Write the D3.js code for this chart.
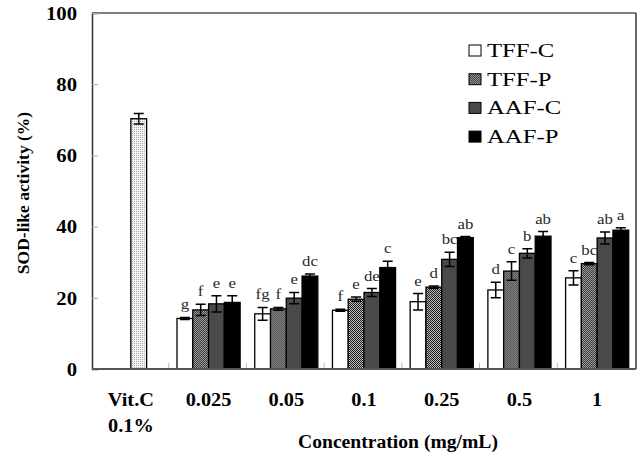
<!DOCTYPE html>
<html lang="en">
<head>
  <meta charset="UTF-8">
  <title>SOD-like activity</title>
  <script src="https://d3js.org/d3.v7.min.js"></script>
  <style>
    body { margin: 0; background: #fff; }
    .tick-label { font: bold 18px "Liberation Serif", serif; fill: #000; }
    .letter { font: 15px "Liberation Serif", serif; fill: #2a2a2a; }
    .legend text { font: 19px "Liberation Serif", serif; fill: #000; }
  </style>
</head>
<body>
  <div id="chart"></div>
  <script>
    // data
    var categories = ["Vit.C|0.1%", "0.025", "0.05", "0.1", "0.25", "0.5", "1"];
    var series = ["TFF-C", "TFF-P", "AAF-C", "AAF-P"];
    var yTicks = [0, 20, 40, 60, 80, 100];

    var vitcValue = 70.3, vitcErr = 1.5;

    var tffC = [14.2, 15.5, 16.5, 18.9, 22.2, 25.6];
    var tffCErr = [0.3, 1.8, 0.3, 2.3, 2.2, 2.0];
    var tffP = [16.6, 16.9, 19.6, 23.0, 27.5, 29.6];
    var tffPErr = [1.6, 0.4, 0.6, 0.3, 2.6, 0.3];
    var aafC = [18.3, 19.9, 21.5, 30.8, 32.5, 36.8];
    var aafCErr = [2.3, 1.6, 1.1, 2.0, 1.3, 1.7];
    var aafP = [18.7, 26.1, 28.5, 36.9, 37.3, 39.0];
    var aafPErr = [1.9, 0.6, 1.8, 0.3, 1.3, 0.7];

    var tffCLetters = ["g", "fg", "f", "e", "d", "c"];
    var tffPLetters = ["f", "f", "e", "d", "c", "bc"];
    var aafCLetters = ["e", "e", "de", "bc", "b", "ab"];
    var aafPLetters = ["e", "dc", "c", "ab", "ab", "a"];

    var margin = { top: 13, right: 6, bottom: 87, left: 92 },
      width = 642 - margin.left - margin.right,
      height = 456 - margin.top - margin.bottom;

    var svg = d3.select("#chart").append("svg")
      .attr("width", 642)
      .attr("height", 456);

    // the original figure's type is a bit wider than it is tall
    function widen(sel, k) {
      sel.each(function () {
        var n = this;
        var len = n.getComputedTextLength();
        if (len > 0) {
          d3.select(n).attr("textLength", len * k).attr("lengthAdjust", "spacingAndGlyphs");
        }
      });
    }

    // fill patterns
    var defs = svg.append("defs");
    var checker = defs.append("pattern").attr("id", "checker")
      .attr("width", 2).attr("height", 2).attr("patternUnits", "userSpaceOnUse");
    checker.append("rect").attr("width", 2).attr("height", 2).attr("fill", "#d8d8d8");
    checker.append("rect").attr("width", 1).attr("height", 1).attr("fill", "#000");
    checker.append("rect").attr("x", 1).attr("y", 1).attr("width", 1).attr("height", 1).attr("fill", "#000");

    var dots = defs.append("pattern").attr("id", "dots")
      .attr("width", 2).attr("height", 2).attr("patternUnits", "userSpaceOnUse");
    dots.append("rect").attr("width", 2).attr("height", 2).attr("fill", "#f4f4f4");
    dots.append("rect").attr("width", 1).attr("height", 1).attr("fill", "#aaa");

    var fills = { "TFF-C": "#fff", "TFF-P": "url(#checker)", "AAF-C": "#4a4a4a", "AAF-P": "#000" };

    var g = svg.append("g")
      .attr("transform", "translate(" + margin.left + "," + margin.top + ")");

    var x0 = d3.scaleBand().domain(categories).range([0, width]);
    var bw = x0.bandwidth();
    var x1 = d3.scaleBand().domain(series).range([bw * 0.094, bw * 0.906]);
    var y = d3.scaleLinear().domain([0, 100]).range([height, 0]);

    // frame (top and right)
    g.append("line").attr("x1", 0).attr("x2", width).attr("y1", 0).attr("y2", 0)
      .attr("stroke", "#000").attr("stroke-width", 1.2);
    g.append("line").attr("x1", width).attr("x2", width).attr("y1", 0).attr("y2", height)
      .attr("stroke", "#000").attr("stroke-width", 1.2);

    // y axis
    var yAxis = g.append("g").call(d3.axisLeft(y).tickValues(yTicks).tickSize(-6).tickFormat(d3.format("d")));
    yAxis.select(".domain").attr("stroke", "#333").attr("stroke-width", 1.5);
    yAxis.selectAll(".tick line").attr("stroke", "#aaa");
    yAxis.selectAll(".tick text").attr("class", "tick-label").attr("x", -15).attr("dy", "0.35em");
    widen(yAxis.selectAll(".tick text"), 1.15);

    // category separator ticks along the bottom
    g.selectAll(".sep")
      .data(categories.slice(1))
      .enter().append("line")
      .attr("class", "sep")
      .attr("x1", function (d) { return x0(d) - 1; })
      .attr("x2", function (d) { return x0(d) - 1; })
      .attr("y1", height)
      .attr("y2", height - 6)
      .attr("stroke", "#bbb");

    // grouped bars
    var rows = [];
    var vals = [tffC, tffP, aafC, aafP];
    var errs = [tffCErr, tffPErr, aafCErr, aafPErr];
    var lets = [tffCLetters, tffPLetters, aafCLetters, aafPLetters];
    categories.slice(1).forEach(function (c, i) {
      series.forEach(function (s, j) {
        rows.push({ cat: c, key: s, value: vals[j][i], err: errs[j][i], letter: lets[j][i] });
      });
    });

    var bars = g.selectAll(".bar")
      .data(rows)
      .enter().append("g")
      .attr("class", "bar")
      .attr("transform", function (d) { return "translate(" + x0(d.cat) + ",0)"; });

    bars.append("rect")
      .attr("x", function (d) { return x1(d.key); })
      .attr("width", x1.bandwidth())
      .attr("y", function (d) { return y(d.value); })
      .attr("height", function (d) { return height - y(d.value); })
      .attr("fill", function (d) { return fills[d.key]; })
      .attr("stroke", "#000")
      .attr("stroke-width", 1.3);

    function errorBar(sel, cx, d) {
      sel.append("path")
        .attr("d", "M" + (cx - 5) + "," + y(d.value + d.err) + "H" + (cx + 5) +
          "M" + cx + "," + y(d.value + d.err) + "V" + y(d.value - d.err) +
          "M" + (cx - 5) + "," + y(d.value - d.err) + "H" + (cx + 5))
        .attr("fill", "none")
        .attr("stroke", "#000")
        .attr("stroke-width", 1.5);
    }

    bars.each(function (d) {
      var cx = x1(d.key) + x1.bandwidth() / 2;
      errorBar(d3.select(this), cx, d);
      d3.select(this).append("text")
        .attr("class", "letter")
        .attr("x", cx)
        .attr("y", y(d.value + d.err) - 8)
        .attr("text-anchor", "middle")
        .text(d.letter);
    });
    widen(g.selectAll(".letter"), 1.12);

    // Vit.C reference bar
    var vit = { cat: categories[0], value: vitcValue, err: vitcErr };
    var vg = g.append("g").attr("transform", "translate(" + x0(vit.cat) + ",0)");
    vg.append("rect")
      .attr("x", x1("AAF-C"))
      .attr("width", x1.bandwidth())
      .attr("y", y(vit.value))
      .attr("height", height - y(vit.value))
      .attr("fill", "url(#dots)")
      .attr("stroke", "#000")
      .attr("stroke-width", 1.3);
    errorBar(vg, x1("AAF-C") + x1.bandwidth() / 2, vit);

    // bottom axis line
    g.append("line").attr("x1", 0).attr("x2", width).attr("y1", height).attr("y2", height)
      .attr("stroke", "#555").attr("stroke-width", 2);

    // x category labels (one text per line)
    categories.forEach(function (c) {
      c.split("|").forEach(function (p, k) {
        g.append("text")
          .attr("class", "tick-label xlab")
          .attr("text-anchor", "middle")
          .attr("x", x0(c) + bw / 2)
          .attr("y", height + 37 + k * 26)
          .text(p);
      });
    });
    widen(g.selectAll(".xlab"), 1.13);

    // axis titles
    var xTitle = g.append("text")
      .attr("class", "tick-label")
      .attr("text-anchor", "middle")
      .attr("x", 306)
      .attr("y", height + 79)
      .text("Concentration (mg/mL)");
    widen(xTitle, 1.09);

    g.append("text")
      .attr("class", "tick-label")
      .style("font-size", "17.5px")
      .attr("text-anchor", "middle")
      .attr("transform", "translate(-63," + (height / 2 + 2) + ") rotate(-90)")
      .text("SOD-like activity (%)");

    // legend
    var legend = svg.append("g").attr("class", "legend")
      .attr("transform", "translate(469,45)");
    var li = legend.selectAll("g")
      .data(series)
      .enter().append("g")
      .attr("transform", function (d, i) { return "translate(0," + i * 28.7 + ")"; });
    li.append("rect")
      .attr("width", 12).attr("height", 11)
      .attr("fill", function (d) { return fills[d]; })
      .attr("stroke", "#000").attr("stroke-width", 1);
    li.append("text")
      .attr("x", 18).attr("y", 12)
      .text(function (d) { return d; });
    widen(li.selectAll("text"), 1.3);
  </script>
</body>
</html>
